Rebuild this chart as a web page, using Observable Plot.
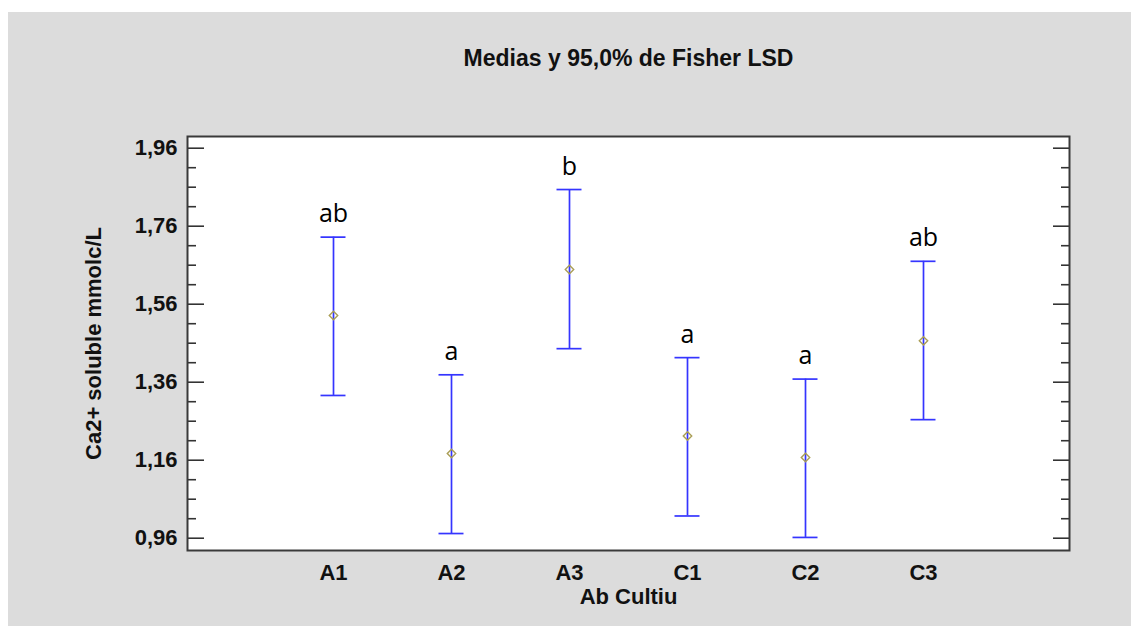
<!DOCTYPE html>
<html>
<head>
<meta charset="utf-8">
<script src="https://cdn.jsdelivr.net/npm/d3@7"></script>
<script src="https://cdn.jsdelivr.net/npm/@observablehq/plot@0.6"></script>
<style>
  html, body { margin: 0; padding: 0; background: #ffffff; }
  #wrap { position: relative; width: 1131px; height: 626px; overflow: hidden; }
  #bg { position: absolute; left: 8px; top: 12px; right: 0; bottom: 0; background: #dcdcdc; }
  #chart { position: absolute; left: 0; top: 0; }
</style>
</head>
<body>
<div id="wrap"><div id="bg"></div><div id="chart"></div></div>
<script>
// Data
const categories = ["A1", "A2", "A3", "C1", "C2", "C3"];
const means = [1.531, 1.177, 1.649, 1.222, 1.167, 1.466];
const lower = [1.326, 0.972, 1.446, 1.017, 0.962, 1.264];
const upper = [1.732, 1.379, 1.854, 1.423, 1.368, 1.670];
const letters = ["ab", "a", "b", "a", "a", "ab"];
const majorTicks = [0.96, 1.16, 1.36, 1.56, 1.76, 1.96];
const minorTicks = [1.01, 1.06, 1.11, 1.21, 1.26, 1.31, 1.41, 1.46, 1.51, 1.61, 1.66, 1.71, 1.81, 1.86, 1.91];
const title = "Medias y 95,0% de Fisher LSD";
const xLabel = "Ab Cultiu";
const yLabel = "Ca2+ soluble mmolc/L";

const rows = categories.map((c, i) => ({cat: c, mean: means[i], lo: lower[i], hi: upper[i], letter: letters[i]}));
const fmt = d => d.toFixed(2).replace(".", ",");
const axisFont = {fontFamily: "'Liberation Sans', Arial, sans-serif", fontWeight: "bold", fontSize: 22, fill: "#111"};
const tickColor = "#333";
const barColor = "#3535ff";

const chart = Plot.plot({
  width: 1131,
  height: 626,
  marginLeft: 187,
  marginRight: 62,
  marginTop: 136,
  marginBottom: 76,
  style: {background: "transparent", overflow: "visible"},
  x: {type: "point", domain: categories, padding: 1.2215, axis: null, label: null},
  y: {domain: [0.9285, 1.99], axis: null, label: null},
  marks: [
    Plot.frame({fill: "white", stroke: "none"}),
    // major/minor inward ticks, left and right
    Plot.axisY({anchor: "left", label: null, ticks: majorTicks, tickSize: -17, tickPadding: 27, tickFormat: fmt, stroke: tickColor, strokeWidth: 1.6, strokeOpacity: 1, ...axisFont}),
    Plot.axisY({anchor: "left", label: null, ticks: minorTicks, tickSize: -9, tickFormat: () => "", stroke: tickColor, strokeWidth: 1.6, strokeOpacity: 1}),
    Plot.axisY({anchor: "right", label: null, ticks: majorTicks, tickSize: -17, tickFormat: () => "", stroke: tickColor, strokeWidth: 1.6, strokeOpacity: 1}),
    Plot.axisY({anchor: "right", label: null, ticks: minorTicks, tickSize: -9, tickFormat: () => "", stroke: tickColor, strokeWidth: 1.6, strokeOpacity: 1}),
    Plot.axisX({anchor: "bottom", label: null, tickSize: 0, tickPadding: 14, ...axisFont}),
    Plot.frame({stroke: "#3a3a3a", strokeWidth: 2}),
    // error bars
    Plot.ruleX(rows, {x: "cat", y1: "lo", y2: "hi", stroke: barColor, strokeWidth: 1.7}),
    Plot.ruleY(rows, {x1: "cat", x2: "cat", y: "hi", stroke: barColor, strokeWidth: 1.7, insetLeft: -12.5, insetRight: -12.5}),
    Plot.ruleY(rows, {x1: "cat", x2: "cat", y: "lo", stroke: barColor, strokeWidth: 1.7, insetLeft: -12.5, insetRight: -12.5}),
    Plot.dot(rows, {x: "cat", y: "mean", symbol: "diamond2", r: 3.8, stroke: "#aa9e55", strokeWidth: 1.4, fill: "none"}),
    // group letters
    Plot.text(rows, {x: "cat", y: "hi", text: "letter", dy: -15, lineAnchor: "bottom", fontFamily: "'Open Sans', Lato, sans-serif", fontSize: 25, fill: "#000"}),
    // titles
    Plot.text([title], {frameAnchor: "top", dy: -87, ...axisFont, fontSize: 23}),
    Plot.text([xLabel], {frameAnchor: "bottom", dy: 53, ...axisFont}),
    Plot.text([yLabel], {frameAnchor: "left", textAnchor: "middle", dx: -94, rotate: -90, ...axisFont})
  ]
});
document.getElementById("chart").appendChild(chart);
</script>
</body>
</html>
